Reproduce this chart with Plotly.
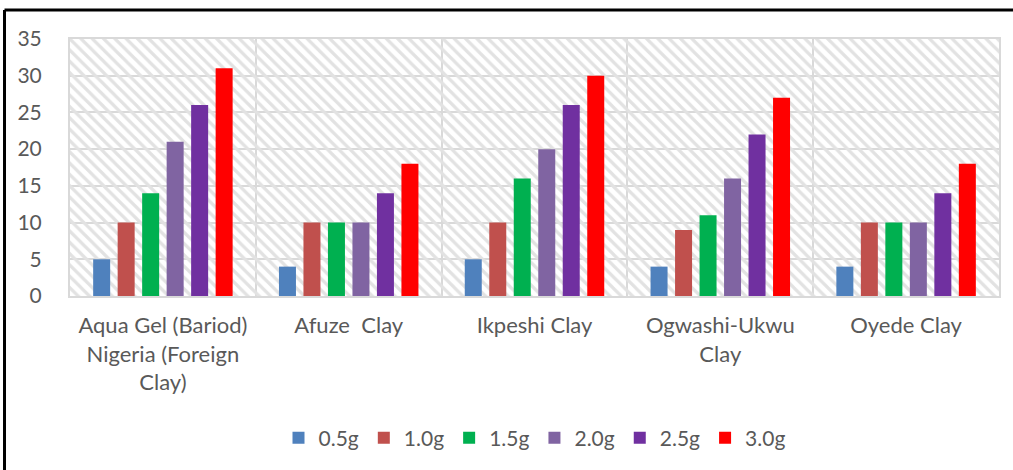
import plotly.graph_objects as go

# Clay samples along the x axis
categories = [
    "Aqua Gel (Bariod)<br>Nigeria (Foreign<br>Clay)",
    "Afuze  Clay",
    "Ikpeshi Clay",
    "Ogwashi-Ukwu<br>Clay",
    "Oyede Clay",
]

# Measured values for each dosage
series_names = ["0.5g", "1.0g", "1.5g", "2.0g", "2.5g", "3.0g"]
vals_05 = [5, 4, 5, 4, 4]
vals_10 = [10, 10, 10, 9, 10]
vals_15 = [14, 10, 16, 11, 10]
vals_20 = [21, 10, 20, 16, 10]
vals_25 = [26, 14, 26, 22, 14]
vals_30 = [31, 18, 30, 27, 18]
series_values = [vals_05, vals_10, vals_15, vals_20, vals_25, vals_30]

colors = ["#4F81BD", "#C0504D", "#00B050", "#8064A2", "#7030A0", "#FF0000"]

y_max = 35
y_ticks = [0, 5, 10, 15, 20, 25, 30, 35]

FONT = "Lato, 'Open Sans', sans-serif"
TEXT = "#595959"
GRID = "#d9d9d9"

fig = go.Figure()

# Hatched plot-area background on the base axes
fig.add_trace(go.Bar(
    x=[len(categories) / 2], y=[y_max], width=[len(categories)],
    xaxis="x", yaxis="y",
    marker=dict(color="#e2e2e2", line=dict(width=0),
                pattern=dict(shape="\\", size=8, solidity=0.4, fillmode="replace")),
    showlegend=False, hoverinfo="skip",
))

# Grouped bars on the overlaid category axes
for name, vals, col in zip(series_names, series_values, colors):
    fig.add_trace(go.Bar(
        x=categories, y=vals, name=name,
        xaxis="x2", yaxis="y2",
        marker=dict(color=col, line=dict(width=0)),
    ))

fig.update_layout(
    width=1013, height=470,
    margin=dict(l=70, r=14, t=39, b=174),
    paper_bgcolor="white", plot_bgcolor="white",
    barmode="group", bargap=0.209, bargroupgap=0.306,
    font=dict(family=FONT, color=TEXT),
    xaxis=dict(range=[0, len(categories)], tickvals=list(range(len(categories) + 1)),
               showticklabels=False, showgrid=True, gridcolor=GRID, gridwidth=2,
               zeroline=False, showline=True, mirror=True, linecolor=GRID, linewidth=2,
               ticks=""),
    yaxis=dict(range=[0, y_max], tickvals=y_ticks, showgrid=True, gridcolor=GRID,
               gridwidth=2, zeroline=False, showline=True, mirror=True, linecolor=GRID,
               linewidth=2, ticks="", ticklabelstandoff=22,
               tickfont=dict(family=FONT, size=21, color=TEXT)),
    xaxis2=dict(overlaying="x", anchor="y2", side="bottom", type="category",
                range=[-0.5, len(categories) - 0.5], showgrid=False, zeroline=False,
                showline=False, ticks="", ticklabelstandoff=14,
                tickfont=dict(family=FONT, size=22, color=TEXT)),
    yaxis2=dict(overlaying="y", range=[0, y_max], visible=False),
    legend=dict(orientation="h", x=0.5, xanchor="center", y=-0.553, yanchor="middle",
                font=dict(family=FONT, size=21, color=TEXT), itemwidth=30,
                traceorder="normal"),
    showlegend=True,
    shapes=[
        # chart frame: left and top edges
        dict(type="line", xref="paper", yref="paper", x0=-0.0705, x1=-0.0705,
             y0=1.113, y1=-0.75, line=dict(color="black", width=3)),
        dict(type="line", xref="paper", yref="paper", x0=-0.0705, x1=1.03,
             y0=1.113, y1=1.113, line=dict(color="black", width=3)),
    ],
)

fig.write_html("out.html")
